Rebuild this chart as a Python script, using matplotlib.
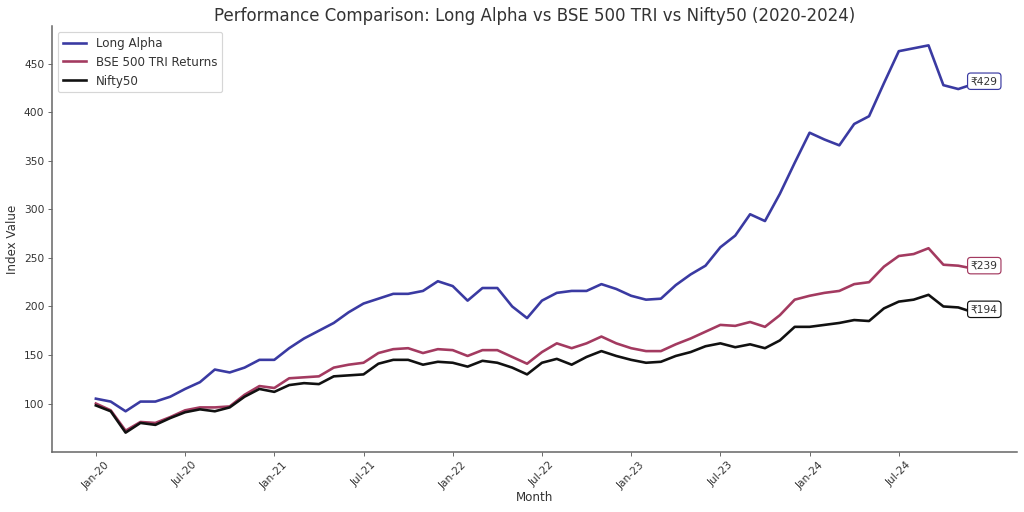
import matplotlib
matplotlib.use("Agg")
import matplotlib.pyplot as plt

month_labels = [f"{m}-{y}" for y in ["20", "21", "22", "23", "24"]
                for m in ["Jan", "Feb", "Mar", "Apr", "May", "Jun",
                          "Jul", "Aug", "Sep", "Oct", "Nov", "Dec"]]

long_alpha = [105, 102, 92, 102, 102, 107, 115, 122, 135, 132, 137, 145,
              145, 157, 167, 175, 183, 194, 203, 208, 213, 213, 216, 226,
              221, 206, 219, 219, 200, 188, 206, 214, 216, 216, 223, 218,
              211, 207, 208, 222, 233, 242, 261, 273, 295, 288, 316, 348,
              379, 372, 366, 388, 396, 430, 463, 466, 469, 428, 424, 429]

bse500 = [100, 93, 72, 81, 80, 86, 93, 96, 96, 97, 109, 118,
          116, 126, 127, 128, 137, 140, 142, 152, 156, 157, 152, 156,
          155, 149, 155, 155, 148, 141, 153, 162, 157, 162, 169, 162,
          157, 154, 154, 161, 167, 174, 181, 180, 184, 179, 191, 207,
          211, 214, 216, 223, 225, 241, 252, 254, 260, 243, 242, 239]

nifty50 = [98, 92, 70, 80, 78, 85, 91, 94, 92, 96, 107, 115,
           112, 119, 121, 120, 128, 129, 130, 141, 145, 145, 140, 143,
           142, 138, 144, 142, 137, 130, 142, 146, 140, 148, 154, 149,
           145, 142, 143, 149, 153, 159, 162, 158, 161, 157, 165, 179,
           179, 181, 183, 186, 185, 198, 205, 207, 212, 200, 199, 194]

series_names = ["Long Alpha", "BSE 500 TRI Returns", "Nifty50"]
series_values = [long_alpha, bse500, nifty50]
colors = ["#3a3aa2", "#a33a60", "#111111"]

plt.rcParams["font.family"] = ["DejaVu Sans"]
plt.rcParams["text.color"] = "#333333"
plt.rcParams["axes.labelcolor"] = "#333333"

DPI = 1024 / 12
fig = plt.figure(figsize=(12, 6), dpi=DPI)
ax = fig.add_axes([52 / 1024, 60 / 512, (1017 - 52) / 1024, (452 - 26) / 512])

x = list(range(len(month_labels)))
for name, vals, c in zip(series_names, series_values, colors):
    ax.plot(x, vals, color=c, linewidth=2.2, label=name)
    ax.annotate(f"₹{vals[-1]}", xy=(x[-1], vals[-1]),
                xytext=(-2, 2.5), textcoords="offset points",
                ha="left", va="center", fontsize=9, color="#333333",
                bbox=dict(boxstyle="round,pad=0.3", fc="white", ec=c, lw=1),
                zorder=5)

ax.set_title("Performance Comparison: Long Alpha vs BSE 500 TRI vs Nifty50 (2020-2024)",
             fontsize=14, color="#333333", pad=4)
ax.set_xlabel("Month", fontsize=10, labelpad=0)
ax.set_ylabel("Index Value", fontsize=10)

tick_pos = x[::6]
ax.set_xticks(tick_pos)
ax.set_xticklabels([month_labels[i] for i in tick_pos], rotation=45)

for s in ["top", "right"]:
    ax.spines[s].set_visible(False)
for s in ["left", "bottom"]:
    ax.spines[s].set_color("#666666")
    ax.spines[s].set_linewidth(1.3)
ax.tick_params(labelcolor="#333333", labelsize=9, color="#666666", length=3)

ax.legend(loc="upper left", fontsize=10, frameon=True)

fig.savefig("out.png", dpi=DPI)
